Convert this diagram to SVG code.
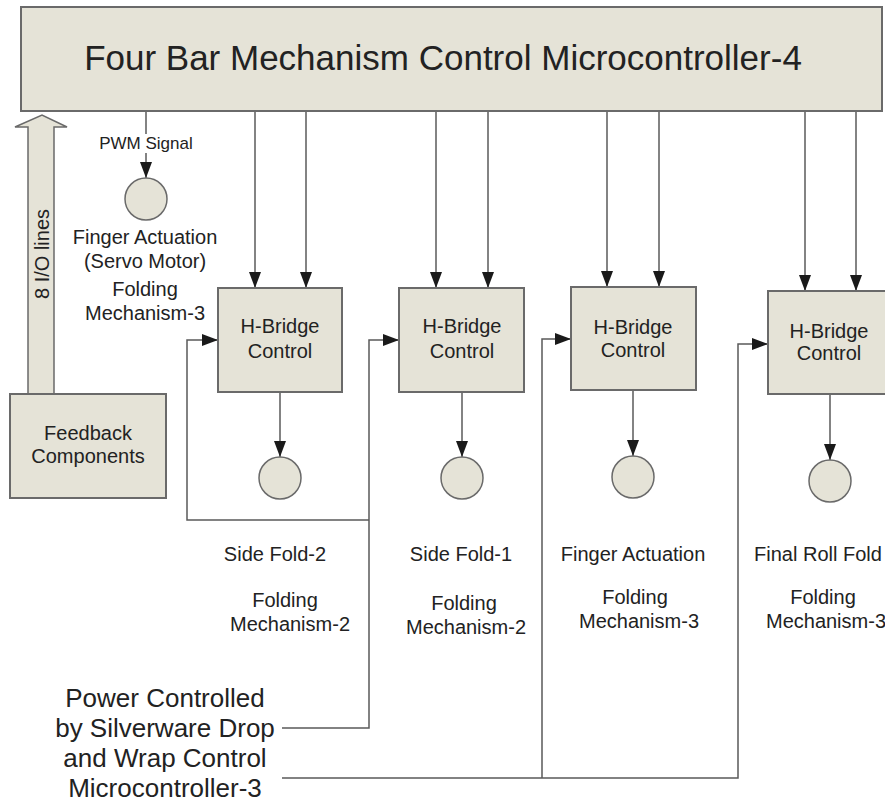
<svg xmlns="http://www.w3.org/2000/svg" width="885" height="803" viewBox="0 0 885 803">
<style>
  .box{fill:#e5e3d7;stroke:#6a6a6a;stroke-width:2}
  .circ{fill:#e5e3d7;stroke:#6a6a6a;stroke-width:1.5}
  .ln{fill:none;stroke:#5a5a5a;stroke-width:1.5}
  .arr{marker-end:url(#ah)}
  text{font-family:"Liberation Sans",Arial,sans-serif;fill:#222;text-anchor:middle}
  .t20{font-size:20px}
  .t17{font-size:17px}
  .t26{font-size:26px}
</style>
<defs>
  <marker id="ah" markerUnits="userSpaceOnUse" markerWidth="16" markerHeight="12" refX="16" refY="6" orient="auto">
    <path d="M0,0 L16,6 L0,12 z" fill="#1a1a1a"/>
  </marker>
</defs>
<rect width="885" height="803" fill="#fff"/>

<g id="connectors">
  <line class="ln arr" x1="146" y1="111" x2="146" y2="178"/>
  <line class="ln arr" x1="255" y1="111" x2="255" y2="288"/>
  <line class="ln arr" x1="306" y1="111" x2="306" y2="288"/>
  <line class="ln arr" x1="436" y1="111" x2="436" y2="288"/>
  <line class="ln arr" x1="488" y1="111" x2="488" y2="288"/>
  <line class="ln arr" x1="607" y1="111" x2="607" y2="287"/>
  <line class="ln arr" x1="659" y1="111" x2="659" y2="287"/>
  <line class="ln arr" x1="805" y1="111" x2="805" y2="291"/>
  <line class="ln arr" x1="856" y1="111" x2="856" y2="291"/>
  <line class="ln arr" x1="280" y1="392" x2="280" y2="457"/>
  <line class="ln arr" x1="462" y1="392" x2="462" y2="457"/>
  <line class="ln arr" x1="633" y1="390" x2="633" y2="456"/>
  <line class="ln arr" x1="830" y1="394" x2="830" y2="460"/>
  <path class="ln arr" d="M282,728 H369 V340 H399"/>
  <path class="ln arr" d="M369,520 H187 V340 H218"/>
  <path class="ln arr" d="M282,778 H738 V344 H768"/>
  <path class="ln arr" d="M542,778 V339 H571"/>
</g>

<g id="pwm-label">
  <rect x="100" y="134" width="92" height="19" fill="#fff"/>
  <text class="t17" x="146" y="149">PWM Signal</text>
</g>

<g id="mcu4">
  <rect class="box" x="21" y="7" width="861" height="104"/>
  <text x="443" y="70" style="font-size:35px">Four Bar Mechanism Control Microcontroller-4</text>
</g>

<g id="io-arrow">
  <path d="M28,394 V127 H15 L42,115 L67,127 H54 V394 Z" fill="#e5e3d7" stroke="#6a6a6a" stroke-width="1.5"/>
  <text class="t20" transform="translate(49,254) rotate(-90)">8 I/O lines</text>
</g>

<g id="feedback">
  <rect class="box" x="10" y="394" width="156" height="104"/>
  <text class="t20" x="88" y="440">Feedback</text>
  <text class="t20" x="88" y="463">Components</text>
</g>

<g id="servo">
  <circle class="circ" cx="146" cy="199" r="21"/>
  <text class="t20" x="145" y="244">Finger Actuation</text>
  <text class="t20" x="145" y="268">(Servo Motor)</text>
  <text class="t20" x="145" y="296">Folding</text>
  <text class="t20" x="145" y="320">Mechanism-3</text>
</g>

<g id="hb1">
  <rect class="box" x="218" y="288" width="124" height="104"/>
  <text class="t20" x="280" y="333">H-Bridge</text>
  <text class="t20" x="280" y="358">Control</text>
</g>
<g id="m1">
  <circle class="circ" cx="280" cy="478" r="21"/>
  <text class="t20" x="275" y="561">Side Fold-2</text>
  <text class="t20" x="285" y="607">Folding</text>
  <text class="t20" x="290" y="631">Mechanism-2</text>
</g>

<g id="hb2">
  <rect class="box" x="399" y="288" width="125" height="104"/>
  <text class="t20" x="462" y="333">H-Bridge</text>
  <text class="t20" x="462" y="358">Control</text>
</g>
<g id="m2">
  <circle class="circ" cx="462" cy="478" r="21"/>
  <text class="t20" x="461" y="561">Side Fold-1</text>
  <text class="t20" x="464" y="610">Folding</text>
  <text class="t20" x="466" y="634">Mechanism-2</text>
</g>

<g id="hb3">
  <rect class="box" x="571" y="287" width="125" height="103"/>
  <text class="t20" x="633" y="334">H-Bridge</text>
  <text class="t20" x="633" y="357">Control</text>
</g>
<g id="m3">
  <circle class="circ" cx="633" cy="477" r="21"/>
  <text class="t20" x="633" y="561">Finger Actuation</text>
  <text class="t20" x="635" y="604">Folding</text>
  <text class="t20" x="639" y="628">Mechanism-3</text>
</g>

<g id="hb4">
  <rect class="box" x="768" y="291" width="124" height="103"/>
  <text class="t20" x="829" y="338">H-Bridge</text>
  <text class="t20" x="829" y="360">Control</text>
</g>
<g id="m4">
  <circle class="circ" cx="830" cy="481" r="21"/>
  <text class="t20" x="818" y="561">Final Roll Fold</text>
  <text class="t20" x="823" y="604">Folding</text>
  <text class="t20" x="826" y="628">Mechanism-3</text>
</g>

<g id="power">
  <text class="t26" x="165" y="707">Power Controlled</text>
  <text class="t26" x="165" y="737">by Silverware Drop</text>
  <text class="t26" x="165" y="767">and Wrap Control</text>
  <text class="t26" x="165" y="797">Microcontroller-3</text>
</g>
</svg>
